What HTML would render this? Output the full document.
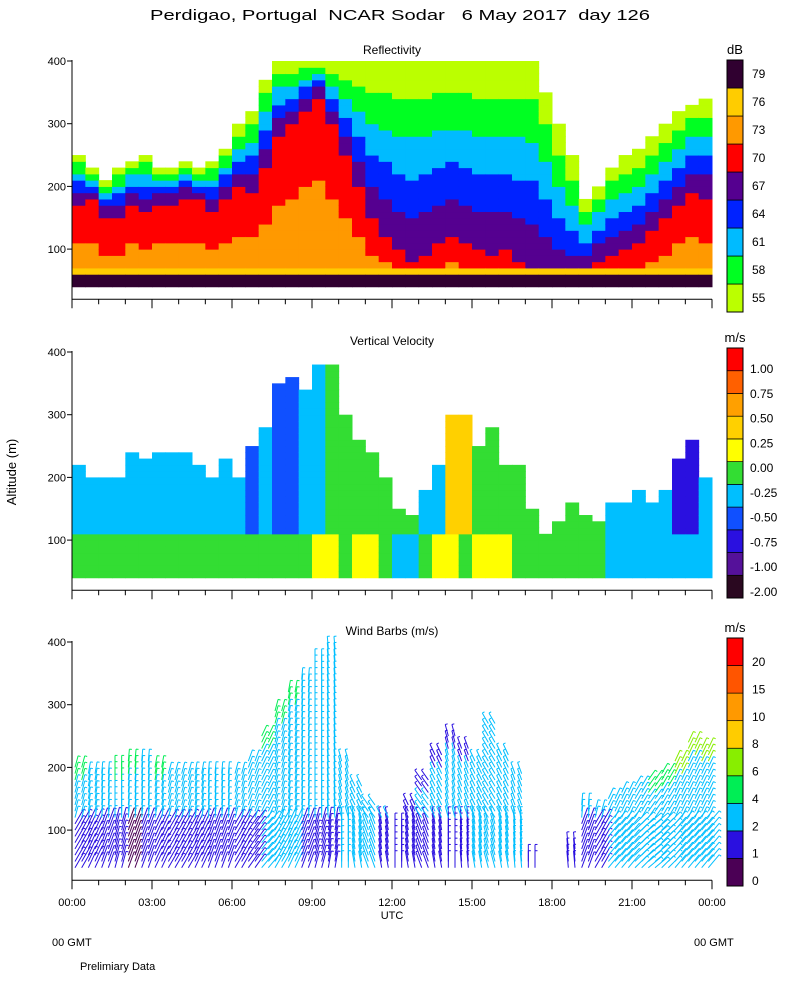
<!DOCTYPE html>
<html><head><meta charset="utf-8"><style>
body{margin:0;background:#fff}
svg text{font-family:"Liberation Sans",sans-serif;font-size:12px;fill:#000}
</style></head><body>
<svg id="chart" width="800" height="1000" xmlns="http://www.w3.org/2000/svg">
<rect width="800" height="1000" fill="#fff"/>
<text x="150" y="20" textLength="500" lengthAdjust="spacingAndGlyphs" style="font-size:15px;white-space:pre">Perdigao, Portugal  NCAR Sodar   6 May 2017  day 126</text>
<text transform="translate(16,472) rotate(-90)" text-anchor="middle" style="font-size:13px">Altitude (m)</text>
<text x="392" y="919" text-anchor="middle" style="font-size:11px">UTC</text>
<text x="52" y="946" style="font-size:11px">00 GMT</text>
<text x="694" y="946" style="font-size:11px">00 GMT</text>
<text x="80" y="970" style="font-size:11px">Prelimiary Data</text>
<g id="layer"></g>
</svg>
<script>
// ---- data (30-min columns, 00:00 .. 23:30) ----
const reflTop=[250,230,210,230,240,250,230,230,240,230,240,260,300,320,370,400,400,400,400,400,400,400,400,400,400,400,400,400,400,400,400,400,400,400,400,350,300,250,180,200,230,250,260,280,300,320,330,340];
const reflCore=[170,180,150,150,170,160,170,170,180,180,160,180,200,190,230,280,300,320,340,300,250,200,150,120,100,80,90,110,120,110,100,90,100,80,70,60,50,50,60,80,90,100,110,130,150,170,190,180];
const vvTop=[220,200,200,200,240,230,240,240,240,220,200,230,200,250,280,350,360,340,380,380,300,260,240,200,150,140,180,220,300,300,250,280,220,220,150,110,130,160,140,130,160,160,180,160,180,230,260,200];
const vvLow=[5,5,5,5,5,5,5,5,5,5,5,5,5,5,5,5,5,5,6,6,5,6,6,5,4,4,5,6,6,5,6,6,6,5,5,5,5,5,5,5,4,4,4,4,4,4,4,4];
const vvHigh=[4,4,4,4,4,4,4,4,4,4,4,4,4,3,4,3,3,4,4,5,5,5,5,5,5,5,4,4,7,7,5,5,5,5,5,5,5,5,5,5,4,4,4,4,4,2,2,4];
const windTop=[210,200,200,210,220,220,210,200,200,200,200,200,200,220,260,300,330,350,380,400,220,180,150,130,110,150,190,230,260,240,220,280,230,200,60,0,0,80,150,140,160,170,180,190,200,220,250,240];
const windLowSpd=[1,1,1,1,0,1,1,1,1,1,1,1,1,1,2,2,2,1,1,1,2,2,2,1,1,1,1,1,1,1,2,2,2,2,1,1,1,1,1,1,2,2,2,2,2,2,2,2];
const windHighSpd=[3,2,2,3,3,2,3,2,2,2,2,2,2,2,3,3,3,2,2,2,2,2,2,2,2,1,1,1,1,1,2,2,2,2,1,1,1,1,2,2,2,2,2,3,3,4,4,4];
const windDir=[20,15,10,5,10,10,15,20,20,15,10,10,20,25,30,20,15,10,5,0,-10,-20,-30,-20,-10,-20,-30,-20,-10,-15,-20,-25,-20,-15,-10,-10,-20,-15,10,20,30,30,35,40,35,30,30,30];
const reflColors=["#bbff00","#00ff22","#00bbff","#0022ff","#550090","#ff0000","#ff9900","#ffcc00","#300030"];
const reflLabels=["55","58","61","64","67","70","73","76","79"];
const vvColors=["#2a0820","#55119a","#2a10e0","#1050ff","#00bfff","#33dd33","#ffff00","#ffd000","#ffa000","#ff6000","#ff0000"];
const vvLabels=["-2.00","-1.00","-0.75","-0.50","-0.25","0.00","0.25","0.50","0.75","1.00"];
const windColors=["#4b0055","#2a10e0","#00bfff","#00ee55","#88ee00","#ffcc00","#ff9900","#ff5500","#ff0000"];
const windLabels=["0","1","2","4","6","8","10","15","20"];
const timeLabels=["00:00","03:00","06:00","09:00","12:00","15:00","18:00","21:00","00:00"];
const altTicks=[100,200,300,400];

const NS="http://www.w3.org/2000/svg";
const L=document.getElementById('layer');
function mk(t,a,parent){const e=document.createElementNS(NS,t);for(const k in a)e.setAttribute(k,a[k]);(parent||L).appendChild(e);return e;}
const X0=72,X1=712;
const xT=h=>X0+(X1-X0)*h/24;
const panels=[{top:61,title:"Reflectivity",unit:"dB"},{top:352,title:"Vertical Velocity",unit:"m/s"},{top:642,title:"Wind Barbs (m/s)",unit:"m/s"}];
const yA=(p,a)=>panels[p].top+(400-a)*0.627;
const colW=(X1-X0)/48;

// Reflectivity
for(let i=0;i<48;i++){
  for(let a=40;a<reflTop[i];a+=10){
    let lv;
    if(a<55) lv=8;
    else if(a<70) lv=7;
    else if(a<reflCore[i]) lv=(a<reflCore[i]*0.6)?6:5;
    else {const f=(a-reflCore[i])/Math.max(10,reflTop[i]-reflCore[i]);lv=Math.max(0,4-Math.floor(f*5));}
    const r=mk('rect',{x:xT(i/2),y:yA(0,a+10),width:colW+0.5,height:6.8,fill:reflColors[lv]});
    
    
  }
}
// Vertical velocity
for(let i=0;i<48;i++){
  for(let a=40;a<vvTop[i];a+=10){
    const lv=a<110?vvLow[i]:vvHigh[i];
    const r=mk('rect',{x:xT(i/2),y:yA(1,a+10),width:colW+0.5,height:6.8,fill:vvColors[lv]});
    
    
  }
}
// Wind barbs
for(let i=0;i<48;i++){
  for(let s=0;s<2;s++){
    const t=i/2+s*0.25;
    for(let a=40;a<windTop[i];a+=10){
      const sp=a<120?windLowSpd[i]:(a>windTop[i]-40?windHighSpd[i]:2);
      const ang=(windDir[i]+(a<120?10:-5))*Math.PI/180;
      const x=xT(t)+3,y=yA(2,a),len=a<120?17:12;
      const x2=x+Math.sin(ang)*len,y2=y-Math.cos(ang)*len;
      const g=mk('g',{stroke:windColors[sp],'stroke-width':1,fill:'none'});
      
      
      mk('line',{x1:x,y1:y,x2:x2,y2:y2},g);
      mk('line',{x1:x2,y1:y2,x2:x2+Math.cos(ang)*2.5,y2:y2+Math.sin(ang)*2.5},g);
    }
  }
}
// axes, titles, colorbars
const bars=[[reflColors,reflLabels,60,312,298,74],[vvColors,vvLabels,348,598,592,369],[windColors,windLabels,638,886,881,662]];
panels.forEach((p,pi)=>{
  const bottom=yA(pi,20);
  const ax=mk('path',{d:`M${X0},${p.top-1}V${bottom}H${X1}`,stroke:'#000',fill:'none'});
  
  
  const tt=mk('text',{x:392,y:p.top-7,'text-anchor':'middle'});tt.textContent=p.title;
  
  
  altTicks.forEach(v=>{
    mk('line',{x1:X0-5,x2:X0,y1:yA(pi,v),y2:yA(pi,v),stroke:'#000'});
    const t=mk('text',{x:X0-6,y:yA(pi,v)+4,'text-anchor':'end',style:'font-size:11px'});t.textContent=v;
    
    
  });
  for(let h=0;h<=24;h++){
    const big=h%3==0;
    mk('line',{x1:xT(h),x2:xT(h),y1:bottom,y2:bottom+(big?9:5),stroke:'#000'});
  }
  const [cols,labs,cy0,cy1,lb,lt]=bars[pi];
  const n=cols.length,hh=(cy1-cy0)/n;
  cols.forEach((c,k)=>{
    const r=mk('rect',{x:727,y:cy1-(k+1)*hh,width:16,height:hh,fill:c,stroke:'#000','stroke-width':0.7});
    
    
  });
  mk('rect',{x:727,y:cy0,width:16,height:cy1-cy0,fill:'none',stroke:'#000'});
  labs.forEach((l,k)=>{
    const yy=lb+(lt-lb)*k/(labs.length-1);
    const t=mk('text',{x:pi==1?750:752,y:yy+4,style:'font-size:12px'});t.textContent=l;
    
    
  });
  const u=mk('text',{x:735,y:cy0-6,'text-anchor':'middle',style:'font-size:13px'});u.textContent=p.unit;
  
  
});
timeLabels.forEach((l,k)=>{
  const t=mk('text',{x:xT(k*3),y:906,'text-anchor':'middle',style:'font-size:11px'});t.textContent=l;
  
  
});
</script>
</body></html>
